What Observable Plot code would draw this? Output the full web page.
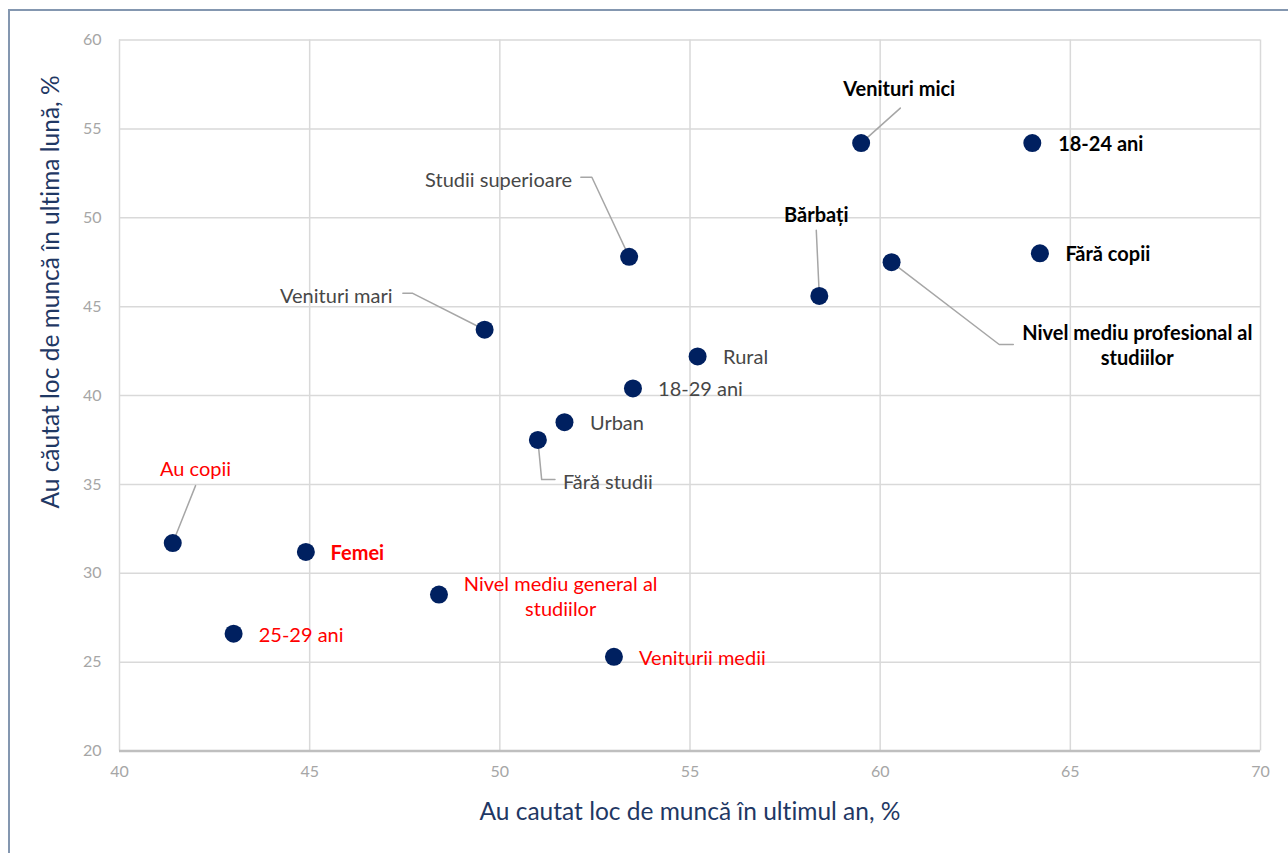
<!DOCTYPE html>
<html>
<head>
<meta charset="utf-8">
<script src="https://cdn.jsdelivr.net/npm/d3@7"></script>
<script src="https://cdn.jsdelivr.net/npm/@observablehq/plot@0.6"></script>
<style>
  html, body { margin: 0; padding: 0; background: #fff; }
  #wrap { position: relative; width: 1288px; height: 853px; overflow: hidden; font-family: Lato, "Open Sans", sans-serif; font-variant-ligatures: none; }
  #chart { position: absolute; left: 0; top: 0; }
  #chart svg { font-variant-ligatures: none; }
  #border { position: absolute; left: 8px; top: 9px; width: 1400px; height: 1000px; border-left: 2px solid #8497b0; border-top: 2px solid #8497b0; pointer-events: none; }
  .title { position: absolute; color: #1f3864; font-size: 24.5px; white-space: nowrap; text-align: center; line-height: 28px; }
  #xtitle { left: 390px; width: 600px; top: 797px; }
  #ytitle { left: -250px; width: 600px; top: 278px; transform: rotate(-90deg); }
</style>
</head>
<body>
<div id="wrap">
  <div id="chart"></div>
  <div id="border"></div>
  <div class="title" id="xtitle">Au cautat loc de muncă în ultimul an, %</div>
  <div class="title" id="ytitle">Au căutat loc de muncă în ultima lună, %</div>
</div>
<script>
// ---- data ----
const groups = [
  "Venituri mici", "18-24 ani", "Fără copii", "Nivel mediu profesional al\nstudiilor", "Bărbați",
  "Studii superioare", "Venituri mari", "Rural", "18-29 ani", "Urban", "Fără studii",
  "Au copii", "Femei", "Nivel mediu general al\nstudiilor", "25-29 ani", "Veniturii medii"
];
// Au cautat loc de muncă în ultimul an, %
const searchedLastYear = [59.5, 64.0, 64.2, 60.3, 58.4, 53.4, 49.6, 55.2, 53.5, 51.7, 51.0, 41.4, 44.9, 48.4, 43.0, 53.0];
// Au căutat loc de muncă în ultima lună, %
const searchedLastMonth = [54.2, 54.2, 48.0, 47.5, 45.6, 47.8, 43.7, 42.2, 40.4, 38.5, 37.5, 31.7, 31.2, 28.8, 26.6, 25.3];
// highlight group of each label: "high" (bold black), "mid" (grey), "low" (red), "lowBold" (bold red)
const highlight = ["high", "high", "high", "high", "high", "mid", "mid", "mid", "mid", "mid", "mid", "low", "lowBold", "low", "low", "low"];

// annotation placement (data units)
const labelX = [60.5, 64.68, 64.87, 66.76, 58.32, 51.9, 47.18, 55.87, 54.16, 52.37, 51.66, 42.0, 45.55, 51.6, 43.66, 53.66];
const labelY = [57.3, 54.2, 48.0, 42.85, 50.2, 52.2, 45.63, 42.2, 40.4, 38.5, 35.2, 35.9, 31.2, 28.73, 26.6, 25.3];
const labelAnchor = ["middle", "start", "start", "middle", "middle", "end", "end", "start", "start", "start", "start", "middle", "start", "middle", "start", "start"];
// leader line bend points (data units), starting from the point itself
const leaderBends = [
  {group: "Venituri mici", pts: [[60.53, 56.17]]},
  {group: "Bărbați", pts: [[58.32, 49.3]]},
  {group: "Nivel mediu profesional al\nstudiilor", pts: [[63.13, 42.87], [63.5, 42.87]]},
  {group: "Studii superioare", pts: [[52.42, 52.28], [52.13, 52.28]]},
  {group: "Venituri mari", pts: [[47.71, 45.75], [47.45, 45.75]]},
  {group: "Fără studii", pts: [[51.1, 35.27], [51.45, 35.27]]},
  {group: "Au copii", pts: [[42.0, 34.93]]}
];
const xTicks = [40, 45, 50, 55, 60, 65, 70];
const yTicks = [20, 25, 30, 35, 40, 45, 50, 55, 60];

// ---- build tables ----
const rows = groups.map((g, i) => ({
  group: g, x: searchedLastYear[i], y: searchedLastMonth[i], hl: highlight[i],
  lx: labelX[i], ly: labelY[i], anchor: labelAnchor[i]
}));
const leaders = [];
for (const lb of leaderBends) {
  const r = rows.find(d => d.group === lb.group);
  leaders.push({group: lb.group, x: r.x, y: r.y});
  for (const [px, py] of lb.pts) leaders.push({group: lb.group, x: px, y: py});
}
const colorOf = {high: "#000000", mid: "#474747", low: "#ff0000", lowBold: "#ff0000"};
const isBold = h => h === "high" || h === "lowBold";

const textMarks = [];
for (const anchor of ["start", "middle", "end"]) {
  for (const bold of [true, false]) {
    const sub = rows.filter(d => d.anchor === anchor && isBold(d.hl) === bold);
    if (!sub.length) continue;
    textMarks.push(Plot.text(sub, {
      x: "lx", y: "ly", text: "group", fill: d => colorOf[d.hl],
      textAnchor: anchor, lineAnchor: "middle", lineHeight: 1.25,
      fontSize: 20, fontWeight: bold ? "bold" : "normal"
    }));
  }
}

const chart = Plot.plot({
  width: 1288,
  height: 853,
  marginLeft: 119,
  marginRight: 28,
  marginTop: 39.5,
  marginBottom: 102.5,
  style: {fontFamily: "Lato, 'Open Sans', sans-serif", background: "transparent"},
  x: {domain: [40, 70]},
  y: {domain: [20, 60]},
  marks: [
    Plot.gridX(xTicks, {stroke: "#d9d9d9", strokeOpacity: 1, strokeWidth: 1.5}),
    Plot.gridY(yTicks.filter(t => t > 20), {stroke: "#d9d9d9", strokeOpacity: 1, strokeWidth: 1.5}),
    Plot.ruleY([20], {stroke: "#bfbfbf", strokeWidth: 2.5}),
    Plot.axisX(xTicks, {tickSize: 0, tickPadding: 15, fontSize: 16, color: "#a6a6a6", label: null}),
    Plot.axisY(yTicks, {tickSize: 0, tickPadding: 18, fontSize: 16, color: "#a6a6a6", label: null}),
    Plot.line(leaders, {x: "x", y: "y", z: "group", stroke: "#a6a6a6", strokeWidth: 1.5}),
    Plot.dot(rows, {x: "x", y: "y", r: 9, fill: "#002060", stroke: null}),
    ...textMarks
  ]
});
document.getElementById("chart").appendChild(chart);
</script>
</body>
</html>
